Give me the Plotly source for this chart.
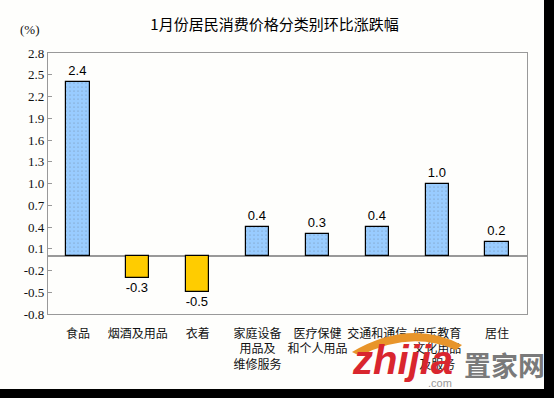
import plotly.graph_objects as go

categories = ["食品", "烟酒及用品", "衣着", "家庭设备<br>用品及<br>维修服务",
              "医疗保健<br>和个人用品", "交通和通信", "娱乐教育<br>文化用品<br>及服务", "居住"]
values = [2.4, -0.3, -0.5, 0.4, 0.3, 0.4, 1.0, 0.2]
y_ticks = [-0.8, -0.5, -0.2, 0.1, 0.4, 0.7, 1.0, 1.3, 1.6, 1.9, 2.2, 2.5, 2.8]

pos_color = "#99CCFF"
neg_color = "#FFCC00"
colors = [pos_color if v >= 0 else neg_color for v in values]
patterns = ["." if v >= 0 else "" for v in values]
labels = [f"{v:.1f}" for v in values]

fig = go.Figure()
fig.add_trace(go.Bar(
    x=list(range(len(categories))), y=values, width=0.39,
    marker=dict(color=colors, line=dict(color="black", width=1.2),
                pattern=dict(shape=patterns, fgcolor="#86B8EA", size=4, solidity=0.06)),
    text=labels, textposition="outside", cliponaxis=False,
    textfont=dict(family="Liberation Sans", size=13, color="black"),
))

fig.update_layout(
    width=554, height=398,
    margin=dict(l=48, r=27, t=53, b=84, autoexpand=False),
    paper_bgcolor="#FEFEFC", plot_bgcolor="#FEFEFC",
    showlegend=False, bargap=0,
    title=dict(text="1月份居民消费价格分类别环比涨跌幅", x=274.5 / 554, xanchor="center",
               y=1 - 25 / 398, yanchor="middle",
               font=dict(family="Noto Sans CJK SC", size=15, color="#000", weight="normal")),
    xaxis=dict(range=[-0.5, 7.5], tickvals=list(range(len(categories))), ticktext=categories,
               tickangle=0, automargin=False,
               showline=True, linecolor="#999", linewidth=1.2, mirror=True,
               ticks="outside", ticklen=8, tickcolor="rgba(0,0,0,0)",
               tickfont=dict(family="Noto Sans CJK SC", size=12, color="#111"),
               showgrid=False, zeroline=False),
    yaxis=dict(range=[-0.8, 2.8], tickvals=y_ticks, ticktext=[f"{t:.1f}" for t in y_ticks],
               automargin=False,
               showline=True, linecolor="#999", linewidth=1.2, mirror=True,
               ticks="inside", ticklen=4, tickcolor="#999",
               tickfont=dict(family="Liberation Serif, Times New Roman, serif", size=13, color="#111"),
               showgrid=False, zeroline=True, zerolinecolor="#999", zerolinewidth=1.5),
)

fig.add_annotation(text="(%)", xref="paper", yref="paper", x=(30 - 48) / 479, y=1 + 24 / 261,
                   showarrow=False, xanchor="center", yanchor="middle",
                   font=dict(family="Liberation Serif, serif", size=13, color="#111"))

# watermark approximation
def px(x):
    return (x - 48) / 479

def py(y):
    return (314 - y) / 261

fig.add_shape(type="path", xref="paper", yref="paper",
              path=f"M {px(352)} {py(352)} Q {px(410)} {py(318)} {px(462)} {py(345)} "
                   f"L {px(456)} {py(350)} Q {px(410)} {py(330)} {px(360)} {py(356)} Z",
              fillcolor="#E8952A", line=dict(width=0), layer="above")
fig.add_annotation(text="<b><i>zhijia</i></b>", xref="paper", yref="paper", x=px(402), y=py(360),
                   showarrow=False, xanchor="center", yanchor="middle",
                   font=dict(family="Liberation Sans", size=40, color="#D9262E"))
fig.add_annotation(text="<b>置家网</b>", xref="paper", yref="paper", x=px(504), y=py(364),
                   showarrow=False, xanchor="center", yanchor="middle",
                   font=dict(family="Noto Sans CJK SC", size=27, color="#7A7A7A"))
fig.add_annotation(text=".com", xref="paper", yref="paper", x=px(440), y=py(383),
                   showarrow=False, xanchor="center", yanchor="middle",
                   font=dict(family="Liberation Sans", size=11, color="#999"))

# black border at right and bottom of the picture
fig.add_shape(type="rect", xref="paper", yref="paper", x0=px(544), x1=px(560), y0=py(400), y1=py(-5),
              fillcolor="black", line=dict(width=0), layer="above")
fig.add_shape(type="rect", xref="paper", yref="paper", x0=px(-5), x1=px(560), y0=py(400), y1=py(389),
              fillcolor="black", line=dict(width=0), layer="above")

fig.write_html("out.html", config={"displayModeBar": False},
               post_script="document.body.style.margin='0';document.body.style.overflow='hidden';")
